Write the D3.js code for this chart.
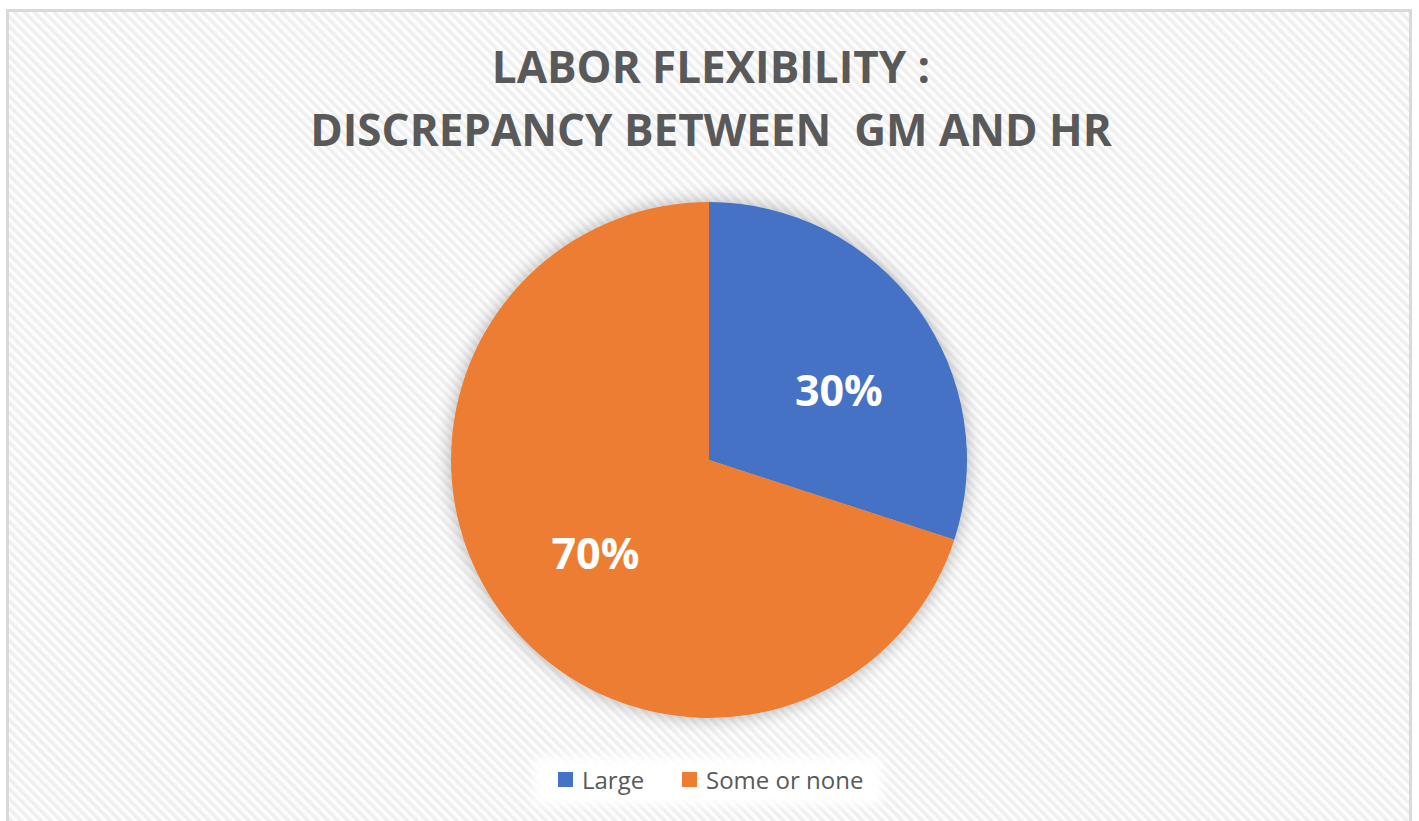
<!DOCTYPE html>
<html>
<head>
<meta charset="utf-8">
<script src="https://cdn.jsdelivr.net/npm/d3@7"></script>
<style>
  html, body { margin: 0; padding: 0; background: #ffffff; }
  #chart { width: 1419px; height: 821px; }
</style>
</head>
<body>
<div id="chart"></div>
<script>
//Datos
const titleLines = ['LABOR FLEXIBILITY :', 'DISCREPANCY BETWEEN  GM AND HR'];
const categories = ['Large', 'Some or none'];
const values = [30, 70];
const labels = ['30%', '70%'];

//Colores fijos
const COLOR_BLUE = '#4472C4',
COLOR_ORANGE = '#ED7D31',
COLOR_TEXT = '#595959',
COLOR_FRAME = '#d9d9d9';

let width = 1419, height = 821;

let svg = d3.select('#chart')
    .append('svg')
        .attr('width', width)
        .attr('height', height);

let defs = svg.append('defs');

//Trama diagonal del fondo
let pattern = defs.append('pattern')
    .attr('id', 'hatch')
    .attr('patternUnits', 'userSpaceOnUse')
    .attr('width', 7)
    .attr('height', 7)
    .attr('patternTransform', 'rotate(-45)');
pattern.append('rect').attr('width', 7).attr('height', 7).attr('fill', '#fdfdfd');
pattern.append('rect').attr('width', 3.5).attr('height', 7).attr('fill', '#efefef');

let shadow = defs.append('filter')
    .attr('id', 'glow')
    .attr('x', '-20%').attr('y', '-20%').attr('width', '140%').attr('height', '140%');
shadow.append('feGaussianBlur').attr('in', 'SourceAlpha').attr('stdDeviation', 9);
shadow.append('feComponentTransfer').append('feFuncA').attr('type', 'linear').attr('slope', 0.3);
let merge = shadow.append('feMerge');
merge.append('feMergeNode');
merge.append('feMergeNode').attr('in', 'SourceGraphic');

let legendBlur = defs.append('filter').attr('id', 'soft')
    .attr('x', '-10%').attr('y', '-30%').attr('width', '120%').attr('height', '160%');
legendBlur.append('feGaussianBlur').attr('stdDeviation', 5);

//Marco
svg.append('rect')
    .attr('x', 7.5).attr('y', 10.5)
    .attr('width', 1403).attr('height', 830)
    .attr('fill', 'url(#hatch)')
    .attr('stroke', COLOR_FRAME)
    .attr('stroke-width', 3);

//Título
svg.append('g')
    .selectAll('text')
    .data(titleLines)
    .enter()
    .append('text')
    .attr('x', 711)
    .attr('y', function(d, i) { return 83 + i * 63; })
    .attr('text-anchor', 'middle')
    .attr('fill', COLOR_TEXT)
    .style('font-family', '"Open Sans", sans-serif')
    .style('font-weight', 700)
    .style('font-size', '44px')
    .style('white-space', 'pre')
    .text(function(d) { return d; });

//Tarta
let cx = 709, cy = 460, radius = 258;

let pie = d3.pie().sort(null).value(function(d) { return d; });
let arc = d3.arc().innerRadius(0).outerRadius(radius);
let labelArc = d3.arc().innerRadius(radius * 0.57).outerRadius(radius * 0.57);

let color = d3.scaleOrdinal()
    .domain(categories)
    .range([COLOR_BLUE, COLOR_ORANGE]);

let arcs = pie(values);

let gPie = svg.append('g')
    .attr('transform', 'translate(' + cx + ',' + cy + ')');

gPie.append('g')
    .attr('filter', 'url(#glow)')
    .selectAll('path')
    .data(arcs)
    .enter()
    .append('path')
    .attr('d', arc)
    .attr('fill', function(d, i) { return color(categories[i]); });

//Etiquetas: Excel las coloca algo desplazadas del centroide
let labelShift = [0.14, -0.06];

gPie.selectAll('.label')
    .data(arcs)
    .enter()
    .append('text')
    .attr('class', 'label')
    .attr('transform', function(d, i) {
        let a = (d.startAngle + d.endAngle) / 2 + labelShift[i];
        let c = labelArc.centroid({startAngle: a, endAngle: a});
        return 'translate(' + c + ')';
    })
    .attr('text-anchor', 'middle')
    .attr('dy', '0.36em')
    .attr('fill', '#ffffff')
    .style('font-family', '"Open Sans", sans-serif')
    .style('font-weight', 700)
    .style('font-size', '43px')
    .text(function(d, i) { return labels[i]; });

//Leyenda
let legend = svg.append('g');

legend.append('rect')
    .attr('x', 534).attr('y', 757)
    .attr('width', 348).attr('height', 48)
    .attr('fill', '#ffffff')
    .attr('filter', 'url(#soft)');

let legendX = [558, 682];

let items = legend.selectAll('.item')
    .data(categories)
    .enter()
    .append('g')
    .attr('class', 'item')
    .attr('transform', function(d, i) { return 'translate(' + legendX[i] + ',772)'; });

items.append('rect')
    .attr('width', 15).attr('height', 15)
    .attr('fill', function(d) { return color(d); });

items.append('text')
    .attr('x', 24)
    .attr('y', 8)
    .attr('dy', '0.36em')
    .attr('fill', COLOR_TEXT)
    .style('font-family', '"Open Sans", sans-serif')
    .style('font-size', '24px')
    .text(function(d) { return d; });
</script>
</body>
</html>
